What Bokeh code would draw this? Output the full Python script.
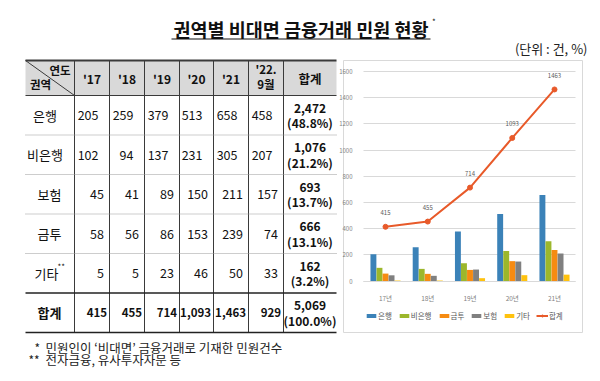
from bokeh.plotting import figure
from bokeh.models import (Range1d, Legend, LegendItem, ColumnDataSource, FixedTicker,
                          LinearAxis, Grid)
from bokeh.embed import file_html
from bokeh.resources import INLINE
from bokeh.core.properties import value

FONT = "Noto Sans CJK KR"

# ---------------- data ----------------
title_text = "권역별 비대면 금융거래 민원 현황"
unit_text = "(단위 : 건, %)"
year_headers = ["'17", "'18", "'19", "'20", "'21", "'22.\n9월"]
total_header = "합계"
sectors = ["은행", "비은행", "보험", "금투", "기타"]
bank = [205, 259, 379, 513, 658, 458]
nonbank = [102, 94, 137, 231, 305, 207]
insurance = [45, 41, 89, 150, 211, 157]
invest = [58, 56, 86, 153, 239, 74]
other = [5, 5, 23, 46, 50, 33]
total_label = "합계"
yearly_total = [415, 455, 714, 1093, 1463, 929]
sector_sum = [2472, 1076, 693, 666, 162]
grand_total = 5069
sector_share = [48.8, 21.2, 13.7, 13.1, 3.2]
grand_share = 100.0
footnote1 = "민원인이 ‘비대면’ 금융거래로 기재한 민원건수"
footnote2 = "전자금융, 유사투자자문 등"

chart_years = ["17년", "18년", "19년", "20년", "21년"]
chart_series = ["은행", "비은행", "금투", "보험", "기타"]
chart_total_name = "합계"
y_ticks = [0, 200, 400, 600, 800, 1000, 1200, 1400, 1600]

# ---------------- styles / layout (page pixels) ----------------
W, H = 600, 381
C_BANK, C_NONBANK, C_INVEST, C_INS, C_OTHER = "#3B82B8", "#9CB72C", "#F68B12", "#808080", "#FFC20E"
C_LINE = "#E85A2A"
col_edges = [25, 74, 109, 144, 179, 213, 248, 283, 336]
row_edges = [60, 95, 134.5, 174, 213.5, 253, 292.5, 332]
# chart geometry anchors
CX0, CSTEP = 385.0, 42.25          # page x of first category centre, px per category
CY0, CY1600 = 280.7, 71.0          # page y of value 0 and 1600
ppu = (CY0 - CY1600) / 1600.0

p = figure(width=W, height=H, x_range=Range1d(0, W), y_range=Range1d(H, 0),
           x_axis_type=None, y_axis_type=None, toolbar_location=None,
           output_backend="svg", min_border=0)
p.outline_line_color = None
p.grid.visible = False
p.background_fill_color = "white"
p.border_fill_color = "white"
p.extra_x_ranges = {"cx": Range1d((0 - CX0) / CSTEP, (W - CX0) / CSTEP)}
p.extra_y_ranges = {"cy": Range1d(-(H - CY0) / ppu, 1600 + CY1600 / ppu)}


def txt(x, y, t, size, bold=False, align="center", color="#111111"):
    p.text(x=x, y=y, text=t, text_font=value(FONT), text_font_size=size,
           text_font_style="bold" if bold else "normal", text_align=align,
           text_baseline="middle", text_color=color)


# ---------------- title ----------------
txt([300.5], [28], [title_text], "18.5px", bold=True)
txt([431.5], [21], ["*"], "8px", align="left")
p.segment(x0=[171], y0=[38.5], x1=[430], y1=[38.5], line_color="#111111", line_width=1.2)
txt([587], [48], [unit_text], "13px", align="right", color="#222222")

# ---------------- table ----------------
L, R = col_edges[0], col_edges[-1]
p.quad(left=[L], right=[R], top=[row_edges[0]], bottom=[row_edges[1]],
       fill_color="#D9D9D9", line_color=None)
for xe in col_edges[1:-1]:
    p.segment(x0=[xe], y0=[row_edges[0]], x1=[xe], y1=[row_edges[-1]], line_color="#3a3a3a", line_width=1)
p.segment(x0=[L], y0=[row_edges[0]], x1=[R], y1=[row_edges[0]], line_color="#3a3a3a", line_width=2)
p.segment(x0=[L], y0=[row_edges[1]], x1=[R], y1=[row_edges[1]], line_color="#3a3a3a", line_width=1)
for ye in row_edges[2:6]:
    p.segment(x0=[L], y0=[ye], x1=[R], y1=[ye], line_color="#9a9a9a", line_width=1, line_dash="1 1")
p.segment(x0=[L], y0=[row_edges[6]], x1=[R], y1=[row_edges[6]], line_color="#222222", line_width=1.6)
p.segment(x0=[L], y0=[row_edges[7]], x1=[R], y1=[row_edges[7]], line_color="#222222", line_width=1.6)
p.segment(x0=[L], y0=[row_edges[0]], x1=[col_edges[1]], y1=[row_edges[1]], line_color="#3a3a3a", line_width=1)
txt([59.5], [69.5], ["연도"], "11.5px", bold=True)
txt([40], [83], ["권역"], "11.5px", bold=True)

hdr_y = (row_edges[0] + row_edges[1]) / 2
for j, h in enumerate(year_headers):
    cx = (col_edges[j + 1] + col_edges[j + 2]) / 2
    parts = h.split("\n")
    if len(parts) == 1:
        txt([cx], [hdr_y], [h], "12px", bold=True)
    else:
        for k, ptxt in enumerate(parts):
            txt([cx], [hdr_y - 9 + 15 * k], [ptxt], "11.5px", bold=True)
tcx = (col_edges[-2] + col_edges[-1]) / 2
txt([tcx], [hdr_y], [total_header], "12.5px", bold=True)

rows_vals = [bank, nonbank, insurance, invest, other]
label_cx = [44.5, 44.5, 49, 49, 46]
num_pad = [11, 11, 5.5, 5.5, 5.5]
for i, (name, vals) in enumerate(zip(sectors, rows_vals)):
    cy = (row_edges[i + 1] + row_edges[i + 2]) / 2
    txt([label_cx[i]], [cy], [name], "13px")
    if name == "기타":
        txt([57], [cy - 7], ["**"], "8px", align="left")
    xs = [col_edges[j + 2] - num_pad[i] for j in range(len(vals))]
    txt(xs, [cy] * len(vals), [f"{v:,}" for v in vals], "12.5px", align="right")
    txt([tcx, tcx], [cy - 7, cy + 7.5], [f"{sector_sum[i]:,}", f"({sector_share[i]:.1f}%)"],
        "12px", bold=True)

cy = (row_edges[6] + row_edges[7]) / 2
txt([49], [cy], [total_label], "13px", bold=True)
xs = [col_edges[j + 2] - 2.5 for j in range(len(yearly_total))]
txt(xs, [cy] * len(yearly_total), [f"{v:,}" for v in yearly_total], "11.5px", bold=True, align="right")
txt([tcx, tcx], [cy - 7, cy + 7.5], [f"{grand_total:,}", f"({grand_share:.1f}%)"], "12px", bold=True)

# ---------------- footnotes ----------------
txt([34, 28], [346.5, 358.5], ["*", "**"], "12px", align="left", color="#222222")
txt([45, 45], [346.5, 358.5], [footnote1, footnote2], "12.5px", align="left", color="#222222")

# ---------------- chart ----------------
p.quad(left=[343], right=[582], top=[60], bottom=[332], fill_color=None, line_color="#D9D9D9", line_width=1)

n = len(chart_years)
idx = list(range(n))
gx0, gx1 = (363 - CX0) / CSTEP, (575 - CX0) / CSTEP
if "cross_bounds" in Grid.properties():
    grid = Grid(dimension=1, ticker=FixedTicker(ticks=y_ticks), x_range_name="cx", y_range_name="cy",
                cross_bounds=(gx0, gx1), grid_line_color="#D9D9D9", grid_line_width=1)
    p.add_layout(grid)
else:
    p.segment(x0=[gx0] * len(y_ticks), x1=[gx1] * len(y_ticks), y0=y_ticks, y1=y_ticks,
              x_range_name="cx", y_range_name="cy", line_color="#D9D9D9", line_width=1)

yax = LinearAxis(y_range_name="cy", fixed_location=363, ticker=FixedTicker(ticks=y_ticks),
                 bounds=(0, 1600))
xax = LinearAxis(x_range_name="cx", y_range_name="cy", fixed_location=0,
                 ticker=FixedTicker(ticks=idx),
                 major_label_overrides={i: chart_years[i] for i in idx}, bounds=(gx0, gx1))
for ax in (xax, yax):
    ax.major_tick_line_color = None
    ax.minor_tick_line_color = None
    ax.major_label_text_font = FONT
    ax.major_label_text_color = "#7F7F7F"
yax.axis_line_color = None
xax.axis_line_color = "#D9D9D9"
yax.major_label_text_font_size = "6px"
xax.major_label_text_font_size = "6.5px"
yax.major_label_standoff = 5
xax.major_label_standoff = 6
p.add_layout(yax, "left")
p.add_layout(xax, "below")

src = ColumnDataSource(dict(
    i=idx,
    bank=bank[:n], nonbank=nonbank[:n], invest=invest[:n], ins=insurance[:n], other=other[:n],
    total=yearly_total[:n], total_txt=[str(v) for v in yearly_total[:n]],
))
bw = 0.143
cols = [("bank", C_BANK), ("nonbank", C_NONBANK), ("invest", C_INVEST), ("ins", C_INS), ("other", C_OTHER)]
items = []
for k, (field, color) in enumerate(cols):
    off = (k - 2) * bw
    src.data["x_" + field] = [v + off for v in idx]
    r = p.vbar(x="x_" + field, top=field, width=bw * 0.98, source=src, bottom=0,
               x_range_name="cx", y_range_name="cy", fill_color=color, line_color=None)
    items.append(LegendItem(label=chart_series[k], renderers=[r]))
lr = p.line(x="i", y="total", source=src, x_range_name="cx", y_range_name="cy",
            line_color=C_LINE, line_width=2)
sr = p.scatter(x="i", y="total", source=src, x_range_name="cx", y_range_name="cy",
               marker="circle", size=5, fill_color=C_LINE, line_color=C_LINE)
p.text(x="i", y="total", text="total_txt", source=src, x_range_name="cx", y_range_name="cy",
       text_font=value(FONT), text_font_size="6px", text_color="#595959",
       text_align="center", text_baseline="middle", y_offset=-14)
items.append(LegendItem(label=chart_total_name, renderers=[lr, sr]))

legend = Legend(items=items, orientation="horizontal", location=(365, 60),
                label_text_font=FONT, label_text_font_size="7.5px", label_text_color="#595959",
                glyph_width=12, glyph_height=5, label_standoff=1, spacing=6,
                label_height=8, label_width=0, padding=0, margin=0,
                border_line_color=None, background_fill_alpha=0)
p.add_layout(legend)

open("out.html", "w").write(file_html(p, INLINE))
